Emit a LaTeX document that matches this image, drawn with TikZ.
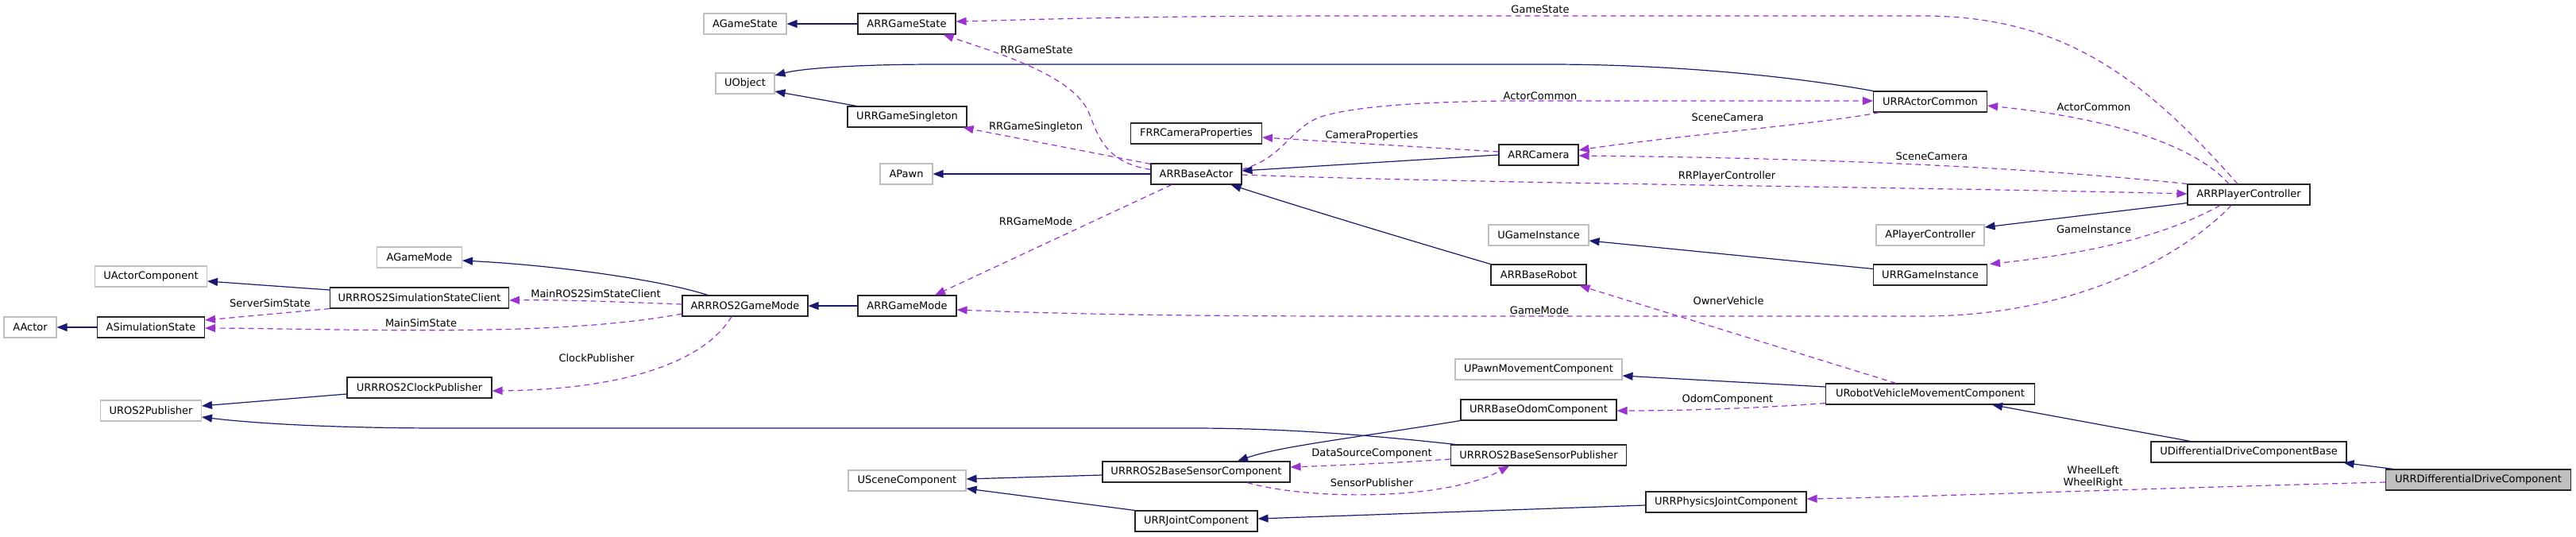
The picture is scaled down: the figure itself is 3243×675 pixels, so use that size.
\documentclass[tikz,border=0pt]{standalone}
\usepackage{fontspec}
\setmainfont{DejaVu Sans}
\usetikzlibrary{arrows.meta}
\definecolor{inhblue}{HTML}{191970}
\definecolor{usepurple}{HTML}{9A32CD}

\begin{document}
\begin{tikzpicture}[x=1pt, y=-1pt,
  font=\fontsize{13}{15}\selectfont,
  cls/.style={draw=black!85, line width=1.1pt, fill=white,
    minimum height=26pt, inner sep=0pt},
  ext/.style={cls, draw=black!25},
  cur/.style={cls, fill=black!25},
  lbl/.style={inner sep=0pt, align=center},
  inh/.style={draw=inhblue, line width=1.2pt,
    -{Triangle[length=13pt,width=10pt]}},
  use/.style={draw=usepurple, line width=1.2pt, dash pattern=on 7pt off 5pt,
    -{Triangle[length=13pt,width=10pt]}}]
\useasboundingbox (0,0) rectangle (3243,675);
% classes
\node[ext, minimum width=104] (agstate) at (938,30) {AGameState};
\node[cls, minimum width=123] (gstate) at (1141.5,30) {ARRGameState};
\node[ext, minimum width=74] (uobj) at (938,105) {UObject};
\node[cls, minimum width=150] (gsingle) at (1142,147) {URRGameSingleton};
\node[ext, minimum width=66] (apawn) at (1141,219) {APawn};
\node[cls, minimum width=114] (base) at (1506,219) {ARRBaseActor};
\node[cls, minimum width=165] (camprop) at (1506,168) {FRRCameraProperties};
\node[cls, minimum width=100] (cam) at (1937,195) {ARRCamera};
\node[cls, minimum width=143] (actcom) at (2430,128) {URRActorCommon};
\node[cls, minimum width=154] (pctrl) at (2831,245) {ARRPlayerController};
\node[ext, minimum width=136] (apctrl) at (2430,296) {APlayerController};
\node[ext, minimum width=126] (ugi) at (1937,296) {UGameInstance};
\node[cls, minimum width=143] (gi) at (2430,346) {URRGameInstance};
\node[cls, minimum width=120] (robot) at (1937,346) {ARRBaseRobot};
\node[ext, minimum width=107] (agmode) at (528,324) {AGameMode};
\node[cls, minimum width=124] (gmode) at (1142,385) {ARRGameMode};
\node[cls, minimum width=158] (rosgm) at (938,385) {ARRROS2GameMode};
\node[ext, minimum width=141] (uactc) at (190,348) {UActorComponent};
\node[cls, minimum width=225] (simcl) at (528,375) {URRROS2SimulationStateClient};
\node[ext, minimum width=66] (aactor) at (38,412) {AActor};
\node[cls, minimum width=135] (simst) at (190,412) {ASimulationState};
\node[cls, minimum width=182] (clock) at (528,488) {URRROS2ClockPublisher};
\node[ext, minimum width=127] (uros) at (190,517) {UROS2Publisher};
\node[ext, minimum width=210] (upawnm) at (1937,465) {UPawnMovementComponent};
\node[cls, minimum width=196] (odom) at (1937,516) {URRBaseOdomComponent};
\node[cls, minimum width=263] (vehm) at (2430,496) {URobotVehicleMovementComponent};
\node[cls, minimum width=221] (senspub) at (1937,573) {URRROS2BaseSensorPublisher};
\node[cls, minimum width=236] (senscomp) at (1506,594) {URRROS2BaseSensorComponent};
\node[ext, minimum width=148] (uscene) at (1142,605) {USceneComponent};
\node[cls, minimum width=154] (joint) at (1506,656) {URRJointComponent};
\node[cls, minimum width=202] (phys) at (2173,632) {URRPhysicsJointComponent};
\node[cls, minimum width=246] (ddbase) at (2831,569) {UDifferentialDriveComponentBase};
\node[cur, minimum width=233] (dd) at (3120,604) {URRDifferentialDriveComponent};
% inheritance
\draw[inh] (gstate.west) -- (agstate.east);
\draw[inh] (actcom.north west) .. controls (2250,95) and (2100,81) .. (1950,81)
  -- (1180,81) .. controls (1080,81) and (1010,86) .. (uobj.15);
\draw[inh] ([xshift=12pt]gsingle.north west) -- (uobj.-15);
\draw[inh] (base.west) -- (apawn.east);
\draw[inh] (cam.west) -- ([yshift=4pt]base.east);
\draw[inh] (robot.north west) .. controls (1800,310) and (1650,265) .. ([xshift=-14pt]base.south east);
\draw[inh] ([yshift=3pt]pctrl.south west) -- ([yshift=10pt]apctrl.east);
\draw[inh] ([yshift=-6pt]gi.north west) -- ([yshift=-7pt]ugi.east);
\draw[inh] (gmode.west) -- (rosgm.east);
\draw[inh] ([xshift=-47pt]rosgm.north) .. controls (830,352) and (700,334) .. ([yshift=-4pt]agmode.east);
\draw[inh] ([yshift=10pt]simcl.west) -- ([yshift=-6pt]uactc.east);
\draw[inh] (simst.west) -- (aactor.east);
\draw[inh] ([yshift=-8pt]clock.west) -- ([yshift=6pt]uros.east);
\draw[inh] ([xshift=6pt]senspub.north west) .. controls (1700,545) and (1600,539) .. (1500,539)
  -- (560,539) .. controls (420,539) and (320,533) .. ([yshift=-8pt]uros.east);
\draw[inh] (odom.south west) .. controls (1700,552) and (1610,562) .. ([xshift=52pt]senscomp.north);
\draw[inh] ([yshift=-4pt]senscomp.west) -- ([yshift=2pt]uscene.east);
\draw[inh] (joint.north west) -- ([yshift=-10pt]uscene.east);
\draw[inh] ([yshift=-4pt]phys.west) -- ([yshift=3pt]joint.east);
\draw[inh] ([yshift=9pt]vehm.west) -- ([yshift=-8pt]upawnm.east);
\draw[inh] ([xshift=50pt]ddbase.north west) -- ([xshift=78pt]vehm.south);
\draw[inh] ([xshift=10pt]dd.north west) -- ([xshift=-4pt]ddbase.south east);
% members
\draw[use] ([xshift=-14pt]pctrl.north) .. controls (2700,100) and (2600,20) .. (2420,20)
  -- (1700,20) .. controls (1400,20) and (1260,26) .. ([yshift=3pt]gstate.east);
\draw[use] ([yshift=-8pt]base.north west) .. controls (1392,205) and (1382,170) .. (1372,145)
  .. controls (1355,95) and (1250,65) .. ([xshift=46pt]gstate.south);
\draw[use] ([yshift=-1pt]base.north west) -- ([xshift=-5pt]gsingle.south east);
\draw[use] ([yshift=6pt]base.east) .. controls (1615,200) and (1625,160) .. (1663,147)
  .. controls (1700,135) and (1780,128) .. (1900,127) -- ([yshift=1pt]actcom.west);
\draw[use] ([yshift=4pt]cam.west) -- ([yshift=-5pt]camprop.east);
\draw[use] ([xshift=8pt]actcom.south west) .. controls (2300,155) and (2100,172) .. ([yshift=6pt]cam.east);
\draw[use] (pctrl.north west) .. controls (2500,205) and (2200,198) .. ([yshift=-1pt]cam.east);
\draw[use] ([yshift=-1pt]base.east) .. controls (1900,232) and (2400,235) .. ([yshift=1pt]pctrl.west);
\draw[use] ([xshift=-25pt]pctrl.north) .. controls (2760,180) and (2650,148) .. ([yshift=-5pt]actcom.east);
\draw[use] ([xshift=-36pt]pctrl.south) .. controls (2720,300) and (2620,320) .. ([xshift=3pt]gi.north east);
\draw[use] ([xshift=-22pt]pctrl.south) .. controls (2740,330) and (2600,398) .. (2420,398)
  -- (1700,398) .. controls (1400,398) and (1260,392) .. ([yshift=-5pt]gmode.east);
\draw[use] ([xshift=-31pt]base.south) -- ([xshift=35pt]gmode.north);
\draw[use] ([yshift=2pt]rosgm.west) .. controls (780,380) and (700,377) .. ([yshift=-3pt]simcl.east);
\draw[use] (simcl.south west) -- ([yshift=9pt]simst.east);
\draw[use] ([yshift=-10pt]rosgm.west) .. controls (700,425) and (450,414) .. ([yshift=-1pt]simst.east);
\draw[use] ([xshift=-17pt]rosgm.south) .. controls (890,450) and (800,490) .. ([yshift=-4pt]clock.east);
\draw[use] ([xshift=-43pt]vehm.north) -- ([xshift=-9pt]robot.south east);
\draw[use] ([yshift=2pt]vehm.south west) .. controls (2200,515) and (2100,517) .. ([yshift=-1pt]odom.east);
\draw[use] ([yshift=-5pt]senspub.west) .. controls (1750,583) and (1680,586) .. ([yshift=6pt]senscomp.east);
\draw[use] ([xshift=64pt]senscomp.south) .. controls (1650,630) and (1820,630) .. ([xshift=-37pt]senspub.south);
\draw[use] ([yshift=-3pt]dd.west) .. controls (2700,615) and (2400,626) .. ([yshift=4pt]phys.east);
% member labels
\node[lbl] (lgstate) at (1939,12) {GameState};
\node[lbl] (lrrgstate) at (1305,63) {RRGameState};
\node[lbl] (lrrgsingle) at (1304,160) {RRGameSingleton};
\node[lbl] (lactcom) at (1939,121) {ActorCommon};
\node[lbl] (lcamprop) at (1727,171) {CameraProperties};
\node[lbl] (lscam) at (2175,148) {SceneCamera};
\node[lbl] (lscam2) at (2432,197) {SceneCamera};
\node[lbl] (lrrpctrl) at (2174,222) {RRPlayerController};
\node[lbl] (lactcom2) at (2636,135) {ActorCommon};
\node[lbl] (lgi) at (2636,289) {GameInstance};
\node[lbl] (lgmode) at (1938,391) {GameMode};
\node[lbl] (lrrgmode) at (1304,279) {RRGameMode};
\node[lbl] (lsimcl) at (750,370) {MainROS2SimStateClient};
\node[lbl] (lsrvsim) at (340,382) {ServerSimState};
\node[lbl] (lmainsim) at (530,407) {MainSimState};
\node[lbl] (lclock) at (751,451) {ClockPublisher};
\node[lbl] (lowner) at (2176,379) {OwnerVehicle};
\node[lbl] (lodom) at (2175,503) {OdomComponent};
\node[lbl] (ldatasrc) at (1727,571) {DataSourceComponent};
\node[lbl] (lsenspub) at (1727,608) {SensorPublisher};
\node[lbl] (lwheel) at (2635,600) {WheelLeft\\WheelRight};
\end{tikzpicture}
\end{document}
